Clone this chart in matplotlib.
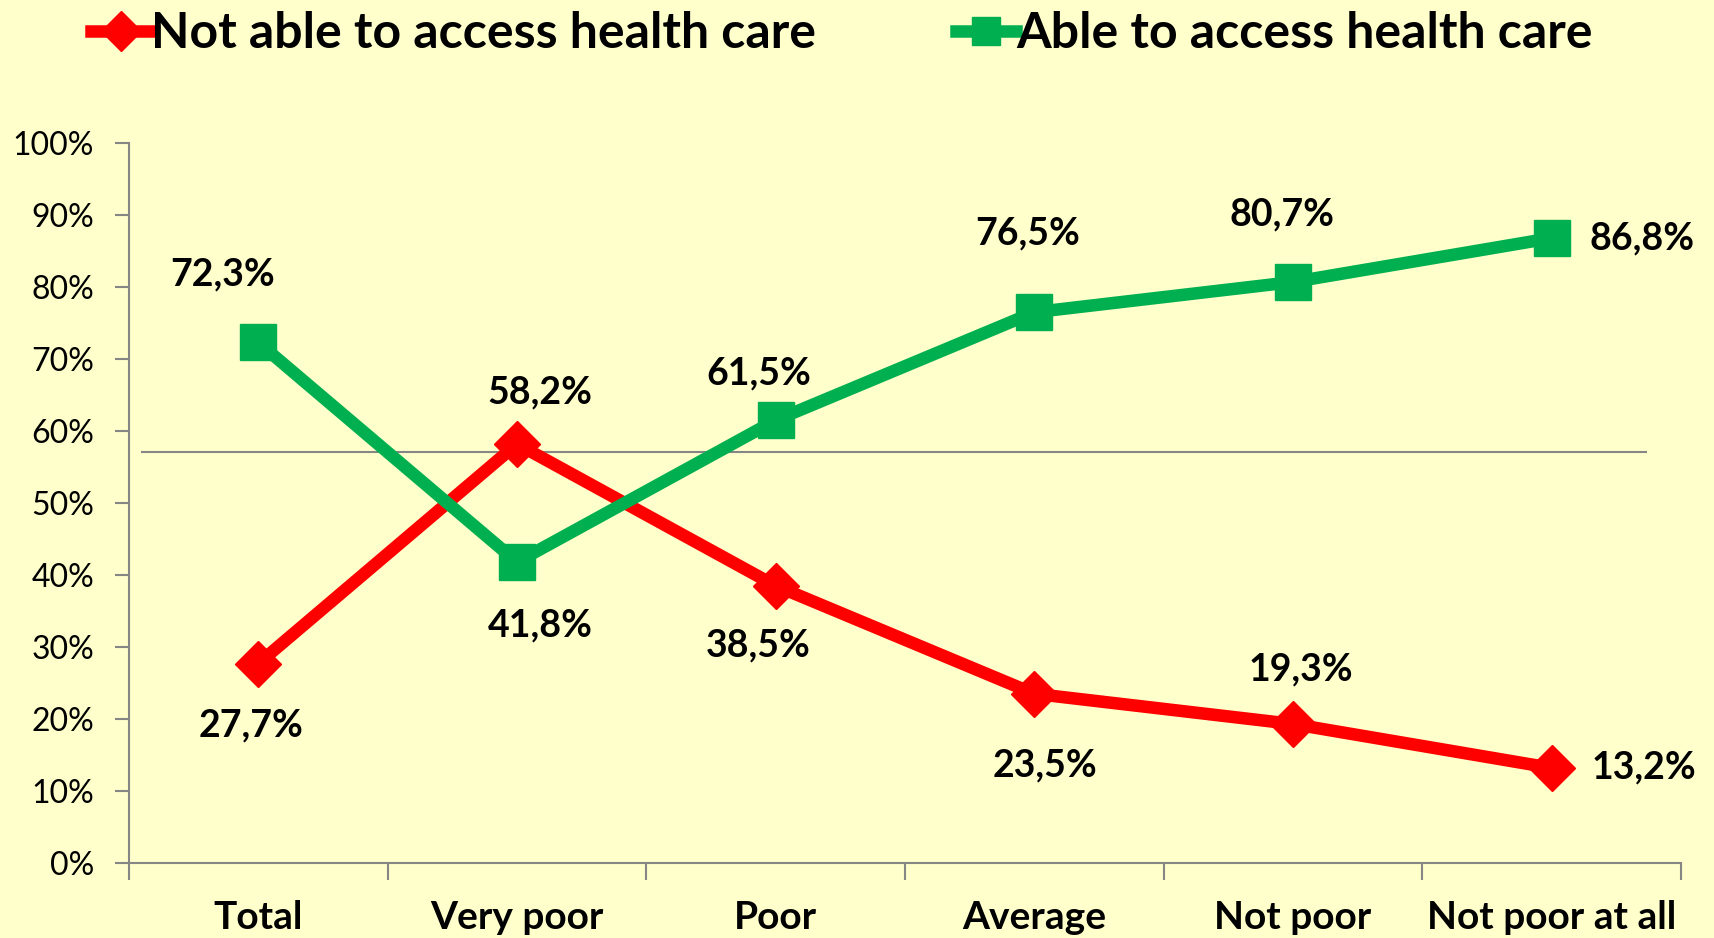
import matplotlib.pyplot as plt
from matplotlib.ticker import FixedLocator, PercentFormatter

categories = ['Total', 'Very poor', 'Poor', 'Average', 'Not poor', 'Not poor at all']
not_able = [27.7, 58.2, 38.5, 23.5, 19.3, 13.2]
able = [72.3, 41.8, 61.5, 76.5, 80.7, 86.8]
ref_level = 57.1

# label offsets in pixels (dx, dy) from each point
not_able_off = [(-7, -62), (23, 51), (-17, -60), (11, -72), (8, 55), (92, 0)]
able_off = [(-36, 68), (23, -63), (-17, 47), (-7, 79), (-11, 68), (90, 0)]

bg = '#FFFFCC'
red = '#FF0000'
green = '#00B050'
grey = '#868686'

plt.rcParams['font.family'] = ['Lato', 'DejaVu Sans']

fig = plt.figure(figsize=(17.15, 9.38), dpi=100, facecolor=bg)
ax = fig.add_axes([0.0752, 0.080, 0.905, 0.7675], facecolor=bg)

x = list(range(len(categories)))
ax.plot([-0.45, 5.365], [ref_level, ref_level], color=grey, lw=1.5, zorder=1)
ax.plot(x, not_able, color=red, lw=9, marker='D', ms=23, label='Not able to access health care', zorder=3)
ax.plot(x, able, color=green, lw=9, marker='s', ms=26, label='Able to access health care', zorder=3)

def fmt(v):
    return f'{v:.1f}%'.replace('.', ',')

for xs, vals, offs in [(x, not_able, not_able_off), (x, able, able_off)]:
    for xi, v, (dx, dy) in zip(xs, vals, offs):
        ax.annotate(fmt(v), (xi, v), xytext=(dx, dy), textcoords='offset pixels',
                    ha='center', va='center', fontsize=27, fontweight='bold')

ax.set_xlim(-0.5, 5.5)
ax.set_ylim(0, 100)
ax.yaxis.set_major_locator(FixedLocator(range(0, 101, 10)))
ax.yaxis.set_major_formatter(PercentFormatter(decimals=0))
ax.set_xticks(x)
ax.set_xticklabels(categories, fontsize=28, fontweight='bold')
ax.xaxis.set_minor_locator(FixedLocator([i - 0.5 for i in range(len(categories) + 1)]))
ax.tick_params(axis='x', which='major', length=0, pad=27)
ax.tick_params(axis='x', which='minor', length=12, width=1.5, color=grey, direction='out')
ax.tick_params(axis='y', length=10, width=1.5, color=grey, labelsize=23, pad=15)

for s in ['top', 'right']:
    ax.spines[s].set_visible(False)
for s in ['left', 'bottom']:
    ax.spines[s].set_color(grey)
    ax.spines[s].set_linewidth(1.5)

leg = fig.legend(loc='center', bbox_to_anchor=(0.491, 0.964), ncol=2, frameon=False,
                 handlelength=1.2, handletextpad=0.0, columnspacing=2.8,
                 prop={'weight': 'bold', 'size': 36})
for h in leg.legend_handles:
    h.set_markersize(20)

fig.savefig('out.png', dpi=100, facecolor=bg)
